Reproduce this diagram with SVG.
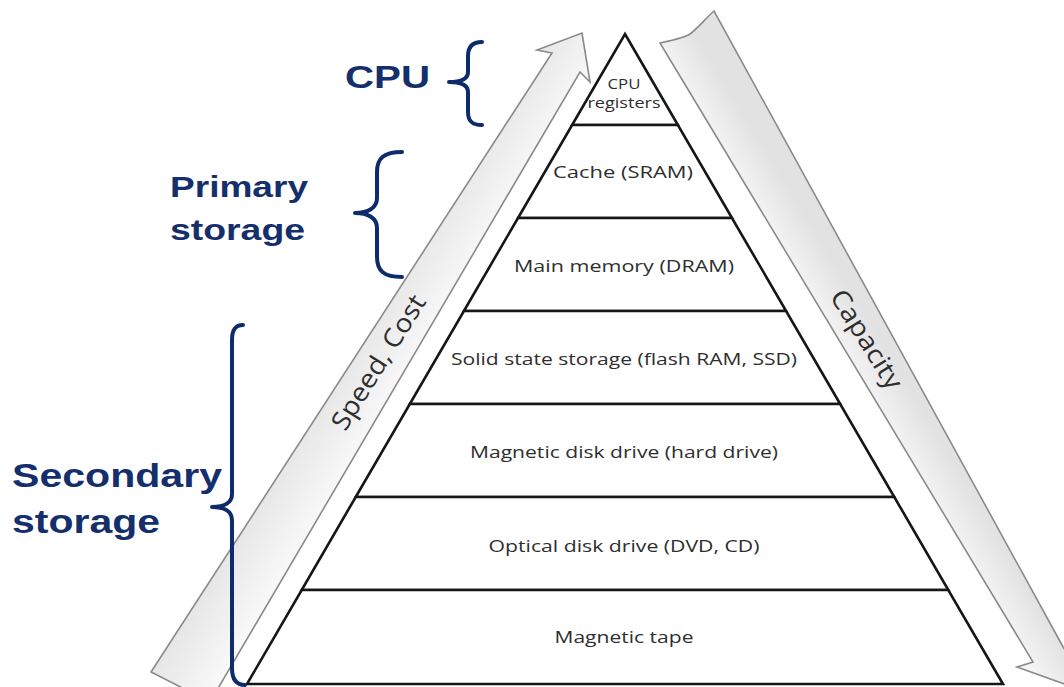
<svg xmlns="http://www.w3.org/2000/svg" width="1064" height="687" viewBox="0 0 1064 687">
  <defs>
    <linearGradient id="gradUp" gradientUnits="userSpaceOnUse" x1="340" y1="355" x2="405" y2="395">
      <stop offset="0" stop-color="#e4e4e4"/>
      <stop offset="1" stop-color="#fbfbfb"/>
    </linearGradient>
    <linearGradient id="gradDown" gradientUnits="userSpaceOnUse" x1="830" y1="370" x2="880" y2="340">
      <stop offset="0" stop-color="#fdfdfd"/>
      <stop offset="1" stop-color="#e2e2e2"/>
    </linearGradient>
    <style>
      .arrow { stroke: #8a8a8a; stroke-width: 1.6; stroke-linejoin: miter; }
      .arrow-label { font-family: "Open Sans", "Noto Sans", sans-serif; font-size: 26px; fill: #2e2e2e; text-anchor: middle; }
      .tier { fill: #ffffff; stroke: #161616; stroke-width: 2.6; stroke-linejoin: miter; }
      .tier-label { font-family: "Open Sans", "Noto Sans", sans-serif; font-size: 17px; fill: #2e2e2e; text-anchor: middle; }
      .tier-label-small { font-family: "Open Sans", "Noto Sans", sans-serif; font-size: 15px; fill: #2e2e2e; text-anchor: middle; }
      .brace { fill: none; stroke: #0e2c6b; stroke-width: 4; stroke-linecap: round; stroke-linejoin: round; }
      .group-label { font-family: "Liberation Sans", Arial, sans-serif; font-weight: bold; fill: #142f6c; }
    </style>
  </defs>

  <rect width="1064" height="687" fill="#ffffff"/>

  <!-- Block arrows alongside the pyramid -->
  <g id="connectors">
    <g id="arrow-speed-cost">
      <polygon class="arrow" fill="url(#gradUp)" points="582,33 590,82 580,72 210,702 151,672 552,53 537,50"/>
      <text class="arrow-label" x="0" y="0" transform="translate(386,367) rotate(-58)" textLength="154" lengthAdjust="spacingAndGlyphs">Speed, Cost</text>
    </g>
    <g id="arrow-capacity">
      <path class="arrow" fill="url(#gradDown)" d="M660,43 C674,40 684,38 690,34 C698,28 706,18 714,11 L1062,645 L1066,652 L1082,648 L1070,686 L1017,667 L1033,662 Z"/>
      <text class="arrow-label" x="0" y="0" transform="translate(859,344) rotate(58)" textLength="112" lengthAdjust="spacingAndGlyphs">Capacity</text>
    </g>
  </g>

  <!-- Memory hierarchy pyramid, one tier per node -->
  <g id="tier-registers">
    <polygon class="tier" points="625,34 677.9,125 572.1,125"/>
    <text class="tier-label-small" x="624" y="89" textLength="33" lengthAdjust="spacingAndGlyphs">CPU</text>
    <text class="tier-label-small" x="624" y="108" textLength="73" lengthAdjust="spacingAndGlyphs">registers</text>
  </g>
  <g id="tier-cache">
    <polygon class="tier" points="572.1,125 677.9,125 732,218 518,218"/>
    <text class="tier-label" x="623" y="178" textLength="140" lengthAdjust="spacingAndGlyphs">Cache (SRAM)</text>
  </g>
  <g id="tier-main-memory">
    <polygon class="tier" points="518,218 732,218 786.1,311 463.9,311"/>
    <text class="tier-label" x="624" y="272" textLength="220" lengthAdjust="spacingAndGlyphs">Main memory (DRAM)</text>
  </g>
  <g id="tier-ssd">
    <polygon class="tier" points="463.9,311 786.1,311 840.2,404 409.8,404"/>
    <text class="tier-label" x="624" y="365" textLength="346" lengthAdjust="spacingAndGlyphs">Solid state storage (flash RAM, SSD)</text>
  </g>
  <g id="tier-hard-drive">
    <polygon class="tier" points="409.8,404 840.2,404 894.3,497 355.7,497"/>
    <text class="tier-label" x="624" y="458" textLength="308" lengthAdjust="spacingAndGlyphs">Magnetic disk drive (hard drive)</text>
  </g>
  <g id="tier-optical">
    <polygon class="tier" points="355.7,497 894.3,497 948.3,590 301.7,590"/>
    <text class="tier-label" x="624" y="552" textLength="271" lengthAdjust="spacingAndGlyphs">Optical disk drive (DVD, CD)</text>
  </g>
  <g id="tier-tape">
    <polygon class="tier" points="301.7,590 948.3,590 1003,684 247,684"/>
    <text class="tier-label" x="624" y="643" textLength="139" lengthAdjust="spacingAndGlyphs">Magnetic tape</text>
  </g>

  <!-- Braces grouping the tiers -->
  <g id="group-cpu">
    <path class="brace" d="M482,42 C472,42 468,47 468,56 L468,72 C468,79 462,82 449,82 C462,82 468,85 468,92 L468,112 C468,121 472,125 482,125"/>
    <text class="group-label" x="345" y="88" font-size="31" textLength="85" lengthAdjust="spacingAndGlyphs">CPU</text>
  </g>
  <g id="group-primary">
    <path class="brace" d="M402,152 C384,152 377,158 377,172 L377,198 C377,208 368,213 355,213 C368,213 377,218 377,228 L377,257 C377,271 384,277 402,277"/>
    <text class="group-label" x="170" y="197" font-size="30" textLength="138" lengthAdjust="spacingAndGlyphs">Primary</text>
    <text class="group-label" x="170" y="240" font-size="30" textLength="135" lengthAdjust="spacingAndGlyphs">storage</text>
  </g>
  <g id="group-secondary">
    <path class="brace" d="M243,325 C235,325 232,330 232,340 L232,494 C232,503 224,507 212,507 C224,507 232,511 232,520 L232,668 C232,679 236,685 245,685"/>
    <text class="group-label" x="12" y="487" font-size="33" textLength="210" lengthAdjust="spacingAndGlyphs">Secondary</text>
    <text class="group-label" x="12" y="533" font-size="33" textLength="148" lengthAdjust="spacingAndGlyphs">storage</text>
  </g>
</svg>
